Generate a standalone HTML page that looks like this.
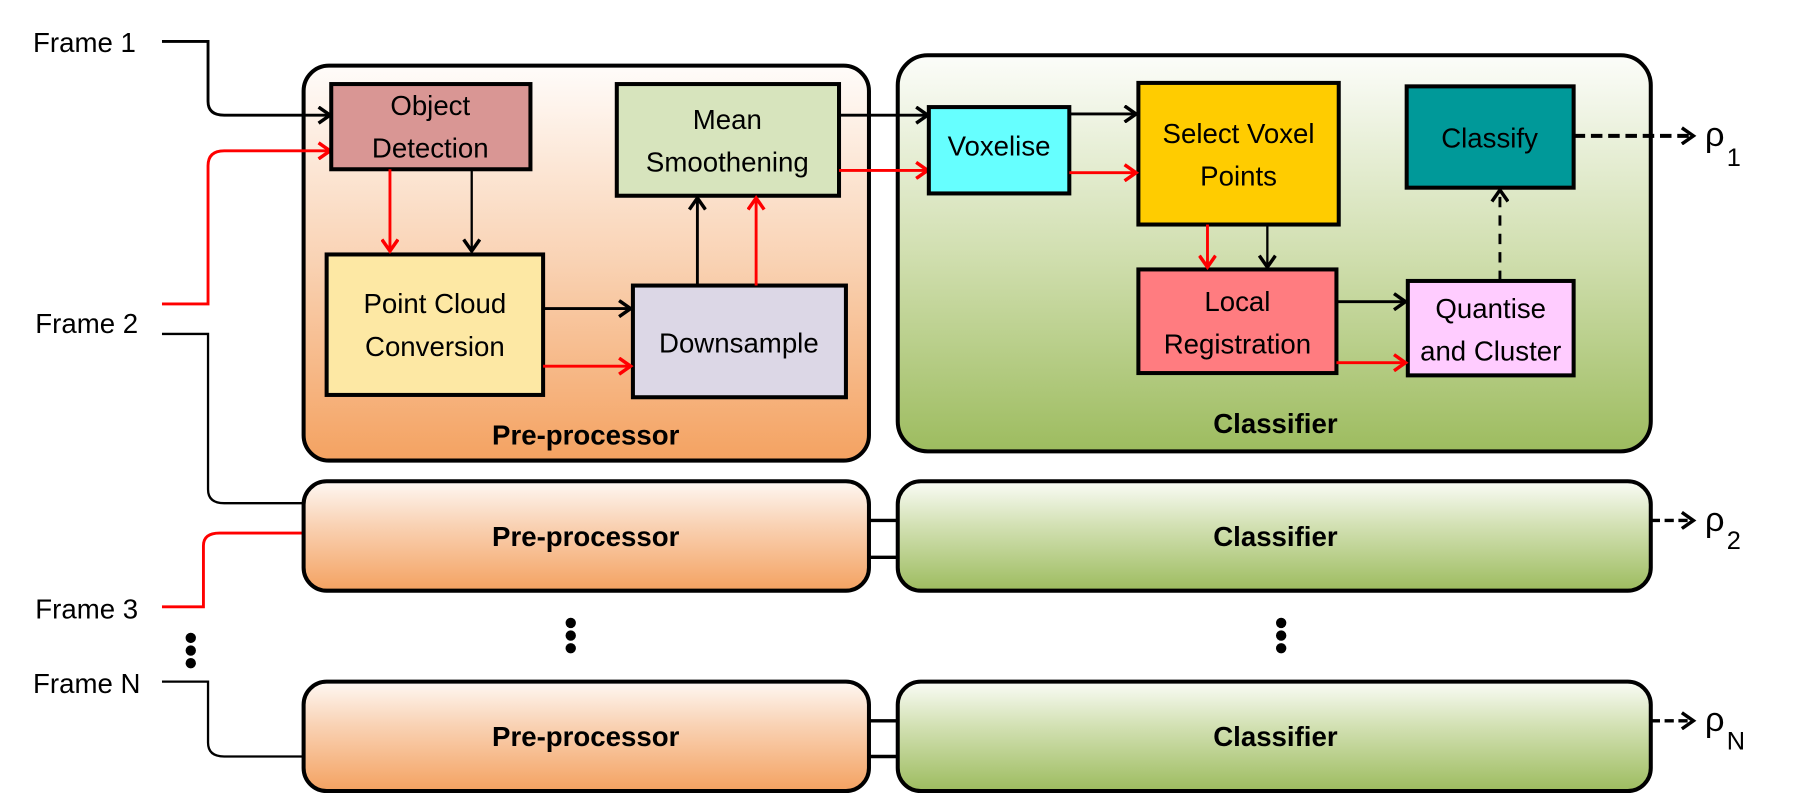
<!DOCTYPE html>
<html><head><meta charset="utf-8"><style>
html,body{margin:0;padding:0;background:#fff;}
svg{display:block;}
text{font-family:"Liberation Sans Narrow","Liberation Sans",sans-serif;font-size:24px;fill:#000;}
.b{font-weight:bold;}
</style></head><body>
<svg width="1807" height="806" viewBox="0 0 1568 700" xmlns="http://www.w3.org/2000/svg">
<defs>
<linearGradient id="og" x1="0" y1="0" x2="0" y2="1"><stop offset="0" stop-color="#fffcfa"/><stop offset="0.5" stop-color="#f9d2b3"/><stop offset="1" stop-color="#f4a261"/></linearGradient>
<linearGradient id="gg" x1="0" y1="0" x2="0" y2="1"><stop offset="0" stop-color="#fcfdfa"/><stop offset="0.5" stop-color="#d1dfb0"/><stop offset="1" stop-color="#9dbc5f"/></linearGradient>
<linearGradient id="og2" x1="0" y1="0" x2="0" y2="1"><stop offset="0" stop-color="#fef8f3"/><stop offset="0.4" stop-color="#f9d2b4"/><stop offset="1" stop-color="#f4a261"/></linearGradient>
<linearGradient id="gg2" x1="0" y1="0" x2="0" y2="1"><stop offset="0" stop-color="#fafcf6"/><stop offset="0.4" stop-color="#d3e1b4"/><stop offset="1" stop-color="#9dbc5f"/></linearGradient>
<marker id="ak" markerWidth="16" markerHeight="16" refX="13" refY="8" orient="auto" markerUnits="userSpaceOnUse"><path d="M3,1 L13,8 L3,15" fill="none" stroke="#000" stroke-width="3"/></marker>
<marker id="ar" markerWidth="16" markerHeight="16" refX="13" refY="8" orient="auto" markerUnits="userSpaceOnUse"><path d="M3,1 L13,8 L3,15" fill="none" stroke="#f00" stroke-width="3"/></marker>
</defs>

<rect x="263" y="57" width="491" height="343" rx="22" fill="url(#og)" stroke="#000" stroke-width="3.5"/>
<rect x="779" y="48" width="654" height="344" rx="26" fill="url(#gg)" stroke="#000" stroke-width="3.5"/>

<text x="28" y="45">Frame 1</text>
<path d="M140,36 H180 V88 Q180,100 194,100 H286" fill="none" stroke="#000" stroke-width="2.5" marker-end="url(#ak)"/>
<text x="30" y="289">Frame 2</text>
<path d="M140,264 H180 V144 Q180,131 194,131 H286" fill="none" stroke="#f00" stroke-width="2.5" marker-end="url(#ar)"/>
<path d="M140,290 H180 V425 Q180,437 194,437 H263" fill="none" stroke="#000" stroke-width="2"/>
<text x="30" y="537">Frame 3</text>
<path d="M140,527 H176 V474 Q176,463 190,463 H263" fill="none" stroke="#f00" stroke-width="2.5"/>
<text x="28" y="602">Frame N</text>
<path d="M140,592 H180 V645 Q180,657 194,657 H263" fill="none" stroke="#000" stroke-width="2"/>

<rect x="287" y="73" width="173" height="74" fill="#d99694" stroke="#000" stroke-width="3.5"/>
<text x="373" y="100" text-anchor="middle">Object</text>
<text x="373" y="137" text-anchor="middle">Detection</text>
<rect x="535" y="73" width="193" height="97" fill="#d7e4bd" stroke="#000" stroke-width="3.5"/>
<text x="631" y="112" text-anchor="middle">Mean</text>
<text x="631" y="149" text-anchor="middle">Smoothening</text>
<rect x="283" y="221" width="188" height="122" fill="#fde8a4" stroke="#000" stroke-width="3.5"/>
<text x="377" y="272" text-anchor="middle">Point Cloud</text>
<text x="377" y="309" text-anchor="middle">Conversion</text>
<rect x="549" y="248" width="185" height="97" fill="#dcd7e6" stroke="#000" stroke-width="3.5"/>
<text x="641" y="306" text-anchor="middle">Downsample</text>
<text x="508" y="386" text-anchor="middle" class="b">Pre-processor</text>

<line x1="338" y1="147" x2="338" y2="218" stroke="#f00" stroke-width="2.5" marker-end="url(#ar)"/>
<line x1="409" y1="147" x2="409" y2="218" stroke="#000" stroke-width="2" marker-end="url(#ak)"/>
<line x1="471" y1="268" x2="547" y2="268" stroke="#000" stroke-width="2.5" marker-end="url(#ak)"/>
<line x1="471" y1="318" x2="547" y2="318" stroke="#f00" stroke-width="2.5" marker-end="url(#ar)"/>
<line x1="605" y1="248" x2="605" y2="172" stroke="#000" stroke-width="2.5" marker-end="url(#ak)"/>
<line x1="656" y1="248" x2="656" y2="172" stroke="#f00" stroke-width="2.5" marker-end="url(#ar)"/>

<line x1="728" y1="100" x2="805" y2="100" stroke="#000" stroke-width="2.5" marker-end="url(#ak)"/>
<line x1="728" y1="148" x2="805" y2="148" stroke="#f00" stroke-width="2.5" marker-end="url(#ar)"/>

<rect x="806" y="93" width="122" height="75" fill="#66ffff" stroke="#000" stroke-width="3.5"/>
<text x="867" y="135" text-anchor="middle">Voxelise</text>
<rect x="988" y="72" width="174" height="123" fill="#ffcc00" stroke="#000" stroke-width="3.5"/>
<text x="1075" y="124" text-anchor="middle">Select Voxel</text>
<text x="1075" y="161" text-anchor="middle">Points</text>
<rect x="1221" y="75" width="145" height="88" fill="#009999" stroke="#000" stroke-width="3.5"/>
<text x="1293" y="128" text-anchor="middle">Classify</text>
<rect x="988" y="234" width="172" height="90" fill="#ff7c80" stroke="#000" stroke-width="3.5"/>
<text x="1074" y="270" text-anchor="middle">Local</text>
<text x="1074" y="307" text-anchor="middle">Registration</text>
<rect x="1222" y="244" width="144" height="82" fill="#ffccff" stroke="#000" stroke-width="3.5"/>
<text x="1294" y="276" text-anchor="middle">Quantise</text>
<text x="1294" y="313" text-anchor="middle">and Cluster</text>
<text x="1107" y="376" text-anchor="middle" class="b">Classifier</text>

<line x1="928" y1="99" x2="986" y2="99" stroke="#000" stroke-width="2.5" marker-end="url(#ak)"/>
<line x1="928" y1="150" x2="986" y2="150" stroke="#f00" stroke-width="2.5" marker-end="url(#ar)"/>
<line x1="1048" y1="195" x2="1048" y2="232" stroke="#f00" stroke-width="2.5" marker-end="url(#ar)"/>
<line x1="1100" y1="195" x2="1100" y2="232" stroke="#000" stroke-width="2" marker-end="url(#ak)"/>
<line x1="1160" y1="262" x2="1220" y2="262" stroke="#000" stroke-width="2.5" marker-end="url(#ak)"/>
<line x1="1160" y1="315" x2="1220" y2="315" stroke="#f00" stroke-width="2.5" marker-end="url(#ar)"/>
<line x1="1302" y1="244" x2="1302" y2="165" stroke="#000" stroke-width="2.5" stroke-dasharray="9,7" marker-end="url(#ak)"/>
<line x1="1366" y1="118" x2="1470" y2="118" stroke="#000" stroke-width="3.5" stroke-dasharray="10,5" marker-end="url(#ak)"/>
<text x="1480" y="127" style="font-size:30px">ρ</text><text x="1499" y="144" style="font-size:22px">1</text>

<rect x="263" y="418" width="491" height="95" rx="20" fill="url(#og2)" stroke="#000" stroke-width="3.5"/>
<text x="508" y="474" text-anchor="middle" class="b">Pre-processor</text>
<rect x="779" y="418" width="654" height="95" rx="20" fill="url(#gg2)" stroke="#000" stroke-width="3.5"/>
<text x="1107" y="474" text-anchor="middle" class="b">Classifier</text>
<line x1="754" y1="452" x2="779" y2="452" stroke="#000" stroke-width="3"/>
<line x1="754" y1="484" x2="779" y2="484" stroke="#000" stroke-width="3"/>
<line x1="1433" y1="452" x2="1470" y2="452" stroke="#000" stroke-width="3" stroke-dasharray="8,4" marker-end="url(#ak)"/>
<text x="1480" y="461" style="font-size:30px">ρ</text><text x="1499" y="477" style="font-size:22px">2</text>

<g fill="#000">
<circle cx="165" cy="554" r="4.5"/><circle cx="165" cy="565" r="4.5"/><circle cx="165" cy="576" r="4.5"/>
<circle cx="495" cy="541" r="4.5"/><circle cx="495" cy="552" r="4.5"/><circle cx="495" cy="563" r="4.5"/>
<circle cx="1112" cy="541" r="4.5"/><circle cx="1112" cy="552" r="4.5"/><circle cx="1112" cy="563" r="4.5"/>
</g>

<rect x="263" y="592" width="491" height="95" rx="20" fill="url(#og2)" stroke="#000" stroke-width="3.5"/>
<text x="508" y="648" text-anchor="middle" class="b">Pre-processor</text>
<rect x="779" y="592" width="654" height="95" rx="20" fill="url(#gg2)" stroke="#000" stroke-width="3.5"/>
<text x="1107" y="648" text-anchor="middle" class="b">Classifier</text>
<line x1="754" y1="626" x2="779" y2="626" stroke="#000" stroke-width="3"/>
<line x1="754" y1="657" x2="779" y2="657" stroke="#000" stroke-width="3"/>
<line x1="1433" y1="626" x2="1470" y2="626" stroke="#000" stroke-width="3" stroke-dasharray="8,4" marker-end="url(#ak)"/>
<text x="1480" y="635" style="font-size:30px">ρ</text><text x="1499" y="651" style="font-size:22px">N</text>
</svg>
</body></html>
